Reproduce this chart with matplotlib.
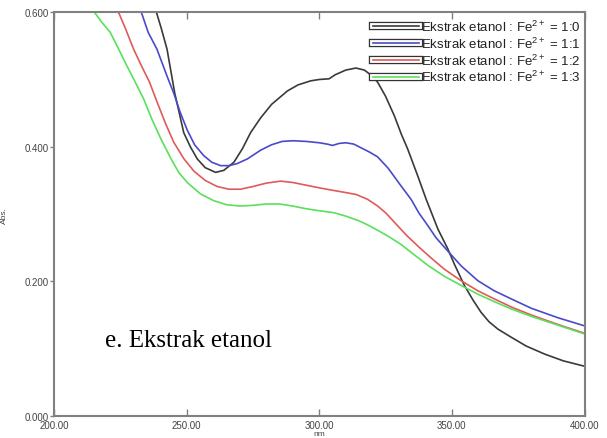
import matplotlib
matplotlib.use("Agg")
import matplotlib.pyplot as plt
import matplotlib.patheffects as pe

# wavelength (nm) / absorbance
nm_0 = [236, 238.6, 240.5, 242.6, 245.5, 248.9, 251.4, 254, 257, 260.9, 264, 267.8, 271, 274.1,
        277.9, 282, 288, 292, 296.8, 300, 303.7, 306, 310, 313.8, 317, 320, 322, 325, 328.3, 331,
        333.3, 337, 340.3, 344.7, 348.5, 351, 354.7, 358, 361, 364, 367.4, 372.4, 378, 385, 392, 400]
abs_0 = [0.63, 0.60, 0.575, 0.545, 0.48, 0.421, 0.400, 0.382, 0.369, 0.362, 0.365, 0.377, 0.397, 0.421,
         0.443, 0.463, 0.483, 0.492, 0.498, 0.500, 0.501, 0.507, 0.514, 0.517, 0.514, 0.505, 0.496, 0.475,
         0.446, 0.418, 0.397, 0.358, 0.322, 0.278, 0.248, 0.225, 0.194, 0.172, 0.154, 0.140, 0.129, 0.117,
         0.104, 0.092, 0.082, 0.074]

nm_1 = [231, 232.9, 235.5, 238.8, 242.6, 245.1, 247.5, 250.2, 253, 256.4, 259.5, 262.8, 266, 269,
        272.9, 277.9, 282, 286, 290, 295, 300, 303, 305, 307.5, 310, 313, 316, 319, 322, 326, 330.8,
        334.6, 337.5, 340.9, 344, 347.8, 353.5, 359.8, 366, 372.4, 380, 390, 400]
abs_1 = [0.63, 0.60, 0.57, 0.545, 0.505, 0.480, 0.452, 0.425, 0.403, 0.387, 0.377, 0.372, 0.372, 0.375,
         0.382, 0.395, 0.403, 0.408, 0.409, 0.408, 0.406, 0.404, 0.402, 0.405, 0.406, 0.404, 0.398, 0.392,
         0.385, 0.368, 0.342, 0.322, 0.302, 0.283, 0.265, 0.248, 0.223, 0.201, 0.186, 0.174, 0.160, 0.146,
         0.134]

nm_2 = [222, 224.3, 227, 230, 233, 236, 239, 242, 245.1, 249, 252.7, 257, 261.5, 266, 270.3, 275,
        280, 285.4, 290, 295, 300, 305.6, 310, 314, 318.2, 322, 325, 328.3, 333, 338.4, 343, 347.2,
        353.5, 359.8, 366, 372.4, 380, 390, 400]
abs_2 = [0.63, 0.60, 0.575, 0.545, 0.52, 0.496, 0.465, 0.435, 0.407, 0.382, 0.364, 0.350, 0.341, 0.337,
         0.337, 0.341, 0.346, 0.349, 0.347, 0.343, 0.339, 0.335, 0.332, 0.329, 0.322, 0.312, 0.302, 0.288,
         0.268, 0.248, 0.232, 0.218, 0.201, 0.186, 0.174, 0.162, 0.150, 0.136, 0.123]

nm_3 = [213, 215.2, 218, 221.2, 224, 227.5, 230.5, 233.8, 237, 240.5, 244, 247, 250.2, 255.2, 260.2,
        265, 270, 275, 280, 285, 290, 295, 300, 305.6, 310, 315, 318.2, 322, 326, 330.8, 335, 340.9,
        347, 353.5, 359.8, 366, 372.4, 380, 390, 400]
abs_3 = [0.63, 0.60, 0.585, 0.570, 0.548, 0.520, 0.497, 0.471, 0.440, 0.410, 0.383, 0.362, 0.347, 0.330,
         0.320, 0.314, 0.312, 0.313, 0.315, 0.315, 0.312, 0.308, 0.305, 0.302, 0.297, 0.290, 0.284, 0.276,
         0.267, 0.255, 0.242, 0.224, 0.208, 0.194, 0.181, 0.170, 0.159, 0.148, 0.135, 0.122]

labels = ["Ekstrak etanol : Fe$^{2+}$ = 1:0", "Ekstrak etanol : Fe$^{2+}$ = 1:1",
          "Ekstrak etanol : Fe$^{2+}$ = 1:2", "Ekstrak etanol : Fe$^{2+}$ = 1:3"]
colors = ["#3a3a3a", "#4a4ac8", "#e05a5a", "#5ae05a"]

plt.rcParams["font.family"] = ["Liberation Sans", "DejaVu Sans"]
plt.rcParams["mathtext.fontset"] = "custom"
plt.rcParams["mathtext.rm"] = "Liberation Sans"
plt.rcParams["mathtext.it"] = "Liberation Sans"

fig = plt.figure(figsize=(6.07, 4.39), dpi=100)
ax = fig.add_axes([0.089, 0.050, 0.874, 0.920])

series = [(nm_0, abs_0), (nm_1, abs_1), (nm_2, abs_2), (nm_3, abs_3)]
for (x, y), c, lab in zip(series, colors, labels):
    ax.plot(x, y, color=c, lw=1.2, label=lab)

ax.set_xlim(200, 400)
ax.set_ylim(0, 0.6)
ax.set_xticks([200, 250, 300, 350, 400])
ax.set_xticklabels(["200.00", "250.00", "300.00", "350.00", "400.00"])
ax.set_yticks([0, 0.2, 0.4, 0.6])
ax.set_yticklabels(["0.000", "0.200", "0.400", "0.600"])
ax.tick_params(axis="x", direction="in", top=True, length=5, width=1, color="#808080",
               labelsize=7, labelcolor="#444444", pad=3)
ax.tick_params(axis="y", direction="out", length=3, width=1, color="#808080",
               labelsize=7, labelcolor="#444444", pad=1)
for s in ax.spines.values():
    s.set_color("#808080")
    s.set_linewidth(1.5)

ax.set_xlabel("nm", fontsize=6, color="#444444", labelpad=0)
ax.set_ylabel("Abs.", fontsize=6, color="#444444", labelpad=12)

# legend handles: coloured line inside a black outlined box
hs = []
for c in colors:
    h = plt.Line2D([], [], color=c, lw=1.2,
                   path_effects=[pe.Stroke(linewidth=6, foreground="#333333"),
                                 pe.Stroke(linewidth=4.2, foreground="white"),
                                 pe.Normal()])
    hs.append(h)
leg = ax.legend(hs, labels, loc="upper right", bbox_to_anchor=(1.005, 1.0), frameon=False,
                fontsize=9.5, handlelength=3.5, handletextpad=0.15, labelspacing=0.12,
                borderaxespad=0.1)
for t in leg.get_texts():
    t.set_color("#222222")

fig.text(105 / 607, 1 - 347 / 439, "e. Ekstrak etanol", fontsize=18,
         family="Liberation Serif", va="baseline", ha="left")

fig.savefig("out.png", dpi=100)
